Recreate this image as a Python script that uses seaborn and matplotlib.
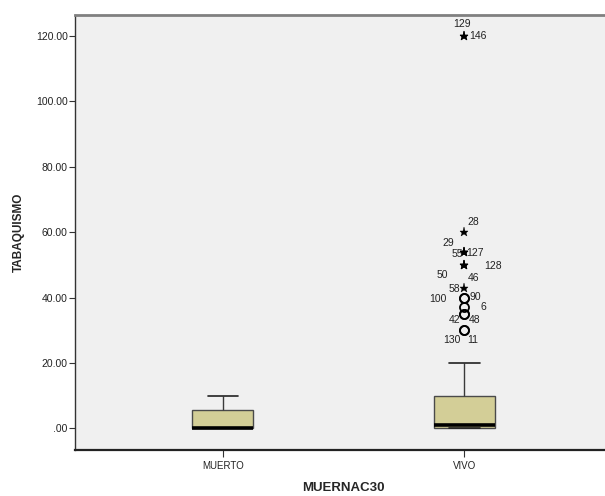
import matplotlib
matplotlib.use("Agg")
import matplotlib.pyplot as plt
import seaborn as sns
import pandas as pd

# ---------------- data ----------------
groups = ["MUERTO", "VIVO"]
# five-number summaries: min, Q1, median, Q3, max (whisker ends)
muerto_summary = [0.0, 0.0, 0.0, 5.6, 10.0]
vivo_summary = [0.0, 0.0, 1.0, 10.0, 20.0]

outlier_group = "VIVO"
outlier_ids = ["129", "146", "28", "29", "55", "127", "128", "50", "46",
               "58", "100", "90", "6", "42", "48", "130", "11"]
outlier_values = [120, 120, 60, 54, 54, 54, 50, 50, 50,
                  43, 40, 40, 37, 35, 35, 30, 30]
outlier_kind = ["extreme", "extreme", "extreme", "extreme", "extreme", "extreme",
                "extreme", "extreme", "extreme", "extreme",
                "outlier", "outlier", "outlier", "outlier", "outlier",
                "outlier", "outlier"]

y_ticks = [0, 20, 40, 60, 80, 100, 120]
y_tick_labels = [".00", "20.00", "40.00", "60.00", "80.00", "100.00", "120.00"]

# label placement (pixel offsets from each point) -- layout only
label_offsets = [(-2, 12), (13, 0), (9, 10), (-16, 9), (-7.5, -2.5), (11, -1.5),
                 (29, -0.7), (-21.7, -10), (9.5, -12.7), (-9.7, -1),
                 (-26.4, -1), (10.5, 0.4), (19, 0), (-9.7, -5.7), (10.5, -5.7),
                 (-12.9, -10), (8.6, -10)]

# ---------------- figure ----------------
sns.set_style("white")
plt.rcParams["font.family"] = ["Liberation Sans", "DejaVu Sans"]

fig = plt.figure(figsize=(6.05, 4.96), dpi=100)
ax = fig.add_axes([75.3 / 605, 46 / 496, (612 - 75.3) / 605, (450 - 14.7) / 496])
ax.set_facecolor("#F0F0F0")

df = pd.DataFrame({
    "MUERNAC30": [groups[0]] * len(muerto_summary) + [groups[1]] * len(vivo_summary),
    "TABAQUISMO": muerto_summary + vivo_summary,
})

sns.boxplot(
    data=df, x="MUERNAC30", y="TABAQUISMO", order=groups, ax=ax,
    whis=(0, 100), showfliers=False, width=0.252,
    color="#D3CE97", saturation=1,
    boxprops=dict(facecolor="#D3CE97", edgecolor="#4a4a4a", linewidth=1.0),
    medianprops=dict(color="black", linewidth=2.6),
    whiskerprops=dict(color="#3a3a3a", linewidth=1.0),
    capprops=dict(color="#222222", linewidth=1.2),
)

# outliers
xpos = groups.index(outlier_group)
for val, kind in zip(outlier_values, outlier_kind):
    if kind == "extreme":
        ax.plot(xpos, val, marker="*", color="black", markersize=6.5,
                markeredgewidth=0.3, linestyle="none", zorder=5)
    else:
        ax.plot(xpos, val, marker="o", markerfacecolor="none",
                markeredgecolor="black", markersize=6.5, markeredgewidth=1.3,
                linestyle="none", zorder=5)

for lab, val, (dx, dy) in zip(outlier_ids, outlier_values, label_offsets):
    ax.annotate(lab, xy=(xpos, val), xytext=(dx, dy), textcoords="offset pixels",
                ha="center", va="center", fontsize=7.5, color="#222222", zorder=6)

ax.set_xlim(-0.611, 1.611)
ax.set_ylim(-6.6, 126.5)
ax.set_yticks(y_ticks)
ax.set_yticklabels(y_tick_labels)
ax.set_xticks(range(len(groups)))
ax.set_xticklabels(groups)

ax.tick_params(axis="y", direction="out", length=4, width=0.8, colors="#333333",
               labelsize=7.5, pad=1.5, left=True)
ax.tick_params(axis="x", direction="out", length=5, width=0.8, colors="#333333",
               labelsize=7, pad=3, bottom=True)
for t in ax.get_xticklabels() + ax.get_yticklabels():
    t.set_color("#222222")

ax.set_ylabel("TABAQUISMO", fontsize=8.5, fontweight="bold", labelpad=8)
ax.set_xlabel("MUERNAC30", fontsize=9.5, fontweight="bold", labelpad=8)

for side, col, lw in [("left", "#333333", 1.0), ("bottom", "#222222", 1.6),
                      ("top", "#808080", 2.0), ("right", "#808080", 1.0)]:
    ax.spines[side].set_visible(True)
    ax.spines[side].set_color(col)
    ax.spines[side].set_linewidth(lw)

fig.savefig("out.png", dpi=100)
